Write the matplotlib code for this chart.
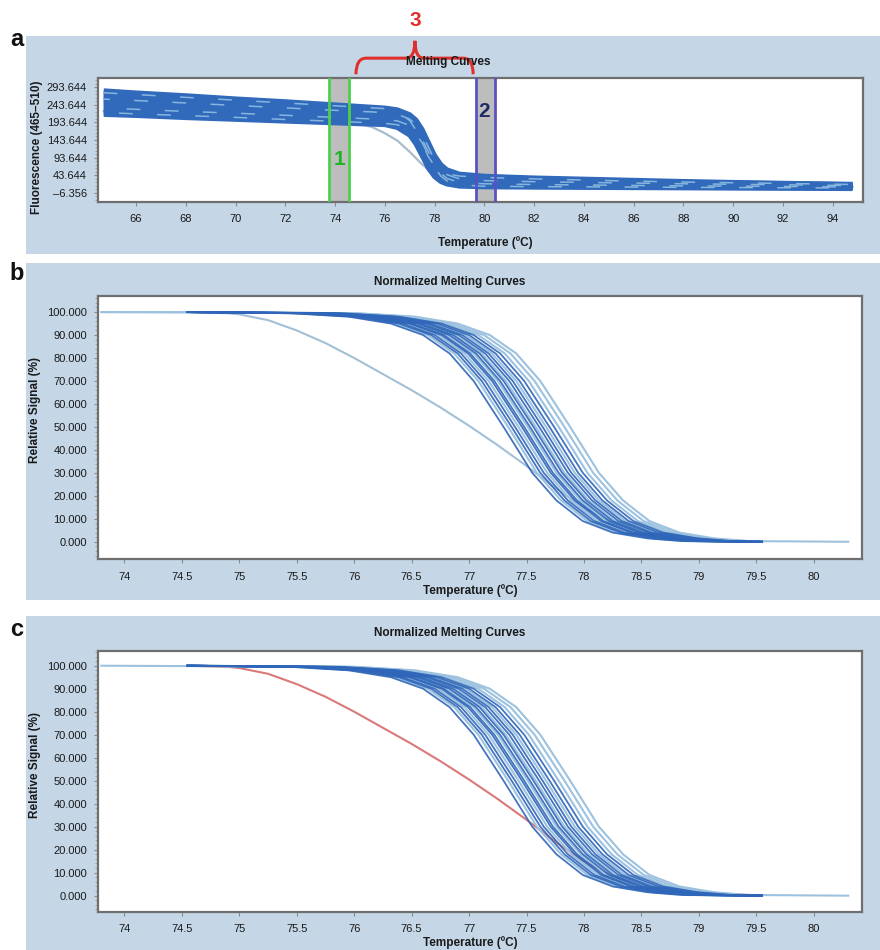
import matplotlib
matplotlib.use('Agg')
import matplotlib.pyplot as plt
from matplotlib.patches import Rectangle, PathPatch
from matplotlib.path import Path
from matplotlib.ticker import FixedLocator, AutoMinorLocator

plt.rcParams['font.family'] = ['Liberation Sans', 'DejaVu Sans']

# ---------------- Panel a: raw melting curves ----------------
RAW_TEMPS = [64.7, 66, 68, 70, 72, 74, 76, 76.5, 77, 77.25, 77.5, 77.75, 78, 78.25,
             78.5, 79, 80, 82, 85, 88, 91, 94.8]
RAW_CURVES = [
    [284, 278, 270, 261, 253, 244, 235, 230, 216, 201, 174, 137, 100, 74, 59, 47, 41, 36, 31, 26, 22, 18],
    [278, 273, 265, 257, 249, 241, 233, 224, 199, 172, 134, 96, 70, 55, 47, 41, 37, 33, 28, 24, 21, 17],
    [272, 267, 260, 252, 244, 237, 229, 224, 210, 195, 168, 130, 92, 66, 51, 39, 34, 30, 26, 22, 19, 16],
    [266, 261, 254, 247, 240, 232, 225, 217, 192, 165, 128, 90, 64, 49, 41, 35, 32, 28, 24, 21, 18, 15],
    [260, 256, 249, 242, 235, 228, 222, 217, 203, 188, 161, 124, 86, 60, 45, 33, 28, 25, 22, 19, 17, 14],
    [254, 250, 243, 236, 230, 223, 217, 209, 184, 158, 121, 84, 58, 43, 35, 29, 26, 23, 20, 18, 15, 13],
    [248, 244, 237, 231, 225, 218, 212, 207, 194, 179, 153, 117, 80, 55, 40, 28, 23, 21, 18, 16, 14, 12],
    [242, 238, 232, 226, 220, 214, 208, 200, 176, 150, 114, 77, 52, 37, 29, 23, 21, 19, 16, 14, 13, 11],
    [235, 231, 225, 220, 214, 208, 202, 198, 185, 170, 145, 110, 74, 49, 34, 23, 19, 17, 15, 13, 12, 10],
    [228, 224, 219, 213, 208, 202, 196, 189, 165, 140, 105, 69, 45, 30, 23, 17, 15, 14, 12, 11, 9, 8],
    [222, 218, 213, 208, 202, 197, 191, 187, 175, 160, 136, 101, 66, 41, 27, 16, 12, 11, 10, 9, 8, 7],
    [216, 213, 207, 202, 197, 192, 187, 179, 157, 132, 98, 63, 39, 25, 18, 12, 10, 9, 8, 7, 6, 5],
]
RAW_LIGHT_OVERLAY = [1, 4, 8, 10]
OUTLIER_RAW_TEMPS = [64.7, 70, 74, 74.7, 75, 75.5, 76, 76.5, 77, 77.5, 78, 78.5, 79, 80, 85, 94.8]
OUTLIER_RAW = [226, 212, 198, 193, 190, 180, 163, 142, 110, 74, 47, 32, 25, 22, 17, 10]

REGION1 = [73.77, 74.56]
REGION2 = [79.65, 80.43]
RAW_YTICKS = [-6.356, 43.644, 93.644, 143.644, 193.644, 243.644, 293.644]
RAW_YLABELS = ['–6.356', '43.644', '93.644', '143.644', '193.644', '243.644', '293.644']
RAW_XTICKS = [66, 68, 70, 72, 74, 76, 78, 80, 82, 84, 86, 88, 90, 92, 94]

# ---------------- Panels b/c: normalized curves ----------------
LEVELS = [100, 99.5, 98, 95, 90, 82, 70, 50, 30, 18, 9, 4, 1.5, 0.3, 0]
NORM_TEMPS = [
    [74.55, 75.45, 75.95, 76.32, 76.60, 76.83, 77.04, 77.30, 77.55, 77.76, 77.99, 78.25, 78.55, 78.85, 79.55],
    [74.55, 75.49, 75.99, 76.36, 76.64, 76.87, 77.08, 77.34, 77.59, 77.80, 78.03, 78.29, 78.59, 78.89, 79.55],
    [74.55, 75.52, 76.02, 76.39, 76.67, 76.90, 77.11, 77.37, 77.62, 77.83, 78.06, 78.32, 78.62, 78.92, 79.55],
    [74.55, 75.55, 76.05, 76.42, 76.70, 76.93, 77.14, 77.40, 77.65, 77.86, 78.09, 78.35, 78.65, 78.95, 79.55],
    [74.55, 75.58, 76.08, 76.45, 76.73, 76.96, 77.17, 77.43, 77.68, 77.89, 78.12, 78.38, 78.68, 78.98, 79.55],
    [74.55, 75.61, 76.11, 76.48, 76.76, 76.99, 77.20, 77.46, 77.71, 77.92, 78.15, 78.41, 78.71, 79.01, 79.55],
    [74.55, 75.63, 76.13, 76.50, 76.78, 77.01, 77.22, 77.48, 77.73, 77.94, 78.17, 78.43, 78.73, 79.03, 79.55],
    [74.55, 75.66, 76.16, 76.53, 76.81, 77.04, 77.25, 77.51, 77.76, 77.97, 78.20, 78.46, 78.76, 79.06, 79.55],
    [74.55, 75.68, 76.18, 76.55, 76.83, 77.06, 77.27, 77.53, 77.78, 77.99, 78.22, 78.48, 78.78, 79.08, 79.55],
    [74.55, 75.71, 76.21, 76.58, 76.86, 77.09, 77.30, 77.56, 77.81, 78.02, 78.25, 78.51, 78.81, 79.11, 79.55],
    [74.55, 75.73, 76.23, 76.60, 76.88, 77.11, 77.32, 77.58, 77.83, 78.04, 78.27, 78.53, 78.83, 79.13, 79.55],
    [74.55, 75.76, 76.26, 76.63, 76.91, 77.14, 77.35, 77.61, 77.86, 78.07, 78.30, 78.56, 78.86, 79.16, 79.55],
    [74.55, 75.79, 76.29, 76.66, 76.94, 77.17, 77.38, 77.64, 77.89, 78.10, 78.33, 78.59, 78.89, 79.19, 79.55],
    [74.55, 75.82, 76.32, 76.69, 76.97, 77.20, 77.41, 77.67, 77.92, 78.13, 78.36, 78.62, 78.92, 79.22, 79.55],
    [74.55, 75.85, 76.35, 76.72, 77.00, 77.23, 77.44, 77.70, 77.95, 78.16, 78.39, 78.65, 78.95, 79.25, 79.55],
    [74.55, 75.89, 76.39, 76.76, 77.04, 77.27, 77.48, 77.74, 77.99, 78.20, 78.43, 78.69, 78.99, 79.29, 79.55],
    [74.55, 75.93, 76.43, 76.80, 77.08, 77.31, 77.52, 77.78, 78.03, 78.24, 78.47, 78.73, 79.03, 79.33, 79.55],
    [74.55, 75.98, 76.48, 76.85, 77.13, 77.36, 77.57, 77.83, 78.08, 78.29, 78.52, 78.78, 79.08, 79.38, 79.55],
    [73.80, 76.03, 76.53, 76.90, 77.18, 77.41, 77.62, 77.88, 78.13, 78.34, 78.57, 78.83, 79.13, 79.43, 80.30],
]
NORM_SHADE = ['dark', 'light', 'dark', 'dark', 'light', 'dark', 'dark', 'light', 'dark', 'dark',
              'light', 'dark', 'dark', 'light', 'dark', 'dark', 'light', 'light', 'light']
OUT_T = [73.8, 74.55, 74.9, 75.0, 75.25, 75.5, 75.75, 76.0, 76.25, 76.5, 76.75, 77.0, 77.25,
         77.5, 77.75, 78.0, 78.25, 78.5, 78.75, 79.0, 79.5]
OUT_Y = [100, 100, 99.5, 99, 96.5, 92, 86.5, 80, 73, 66, 58.5, 50.5, 42, 33, 23.5, 15, 8.5,
         4.5, 2.2, 1, 0.2]
NORM_XTICKS = [74, 74.5, 75, 75.5, 76, 76.5, 77, 77.5, 78, 78.5, 79, 79.5, 80]
NORM_YTICKS = [0, 10, 20, 30, 40, 50, 60, 70, 80, 90, 100]

# ---------------- styling ----------------
W, H = 880, 950
BG = '#c5d6e7'
DARK = '#2f66b9'
LIGHT = '#9cc2df'
SPINE = '#6f6f6f'
TXT = '#1a1a1a'

fig = plt.figure(figsize=(W / 100, H / 100), dpi=100)


def fx(x):
    return x / W


def fy(y):
    return 1 - y / H


def add_axes_px(left, top, right, bottom):
    ax = fig.add_axes([fx(left), fy(bottom), (right - left) / W, (bottom - top) / H])
    ax.set_zorder(2)
    return ax


def style_axes(ax):
    for s in ax.spines.values():
        s.set_color(SPINE)
        s.set_linewidth(1.6)
    ax.tick_params(axis='both', which='major', direction='out', length=3, width=0.8,
                   color='#8a8a8a', labelsize=8, labelcolor=TXT)
    ax.tick_params(axis='y', which='minor', direction='out', length=2, width=0.6, color='#9a9a9a')
    ax.tick_params(axis='x', pad=6)
    ax.tick_params(axis='y', pad=5)
    ax.set_facecolor('white')


# panel backgrounds
for (y0, y1) in [(36, 254), (263, 600), (616, 950)]:
    fig.patches.append(Rectangle((fx(26), fy(y1)), (W - 26) / W, (y1 - y0) / H,
                                 transform=fig.transFigure, facecolor=BG, edgecolor='none',
                                 zorder=-5))

# ---------------- Panel a ----------------
axa = add_axes_px(98, 78, 863, 202)
style_axes(axa)
axa.set_xlim(64.47, 95.22)
axa.set_ylim(-32.8, 320.1)
axa.axvspan(REGION1[0], REGION1[1], color='#bdbdbd', zorder=1, lw=0)
axa.axvspan(REGION2[0], REGION2[1], color='#bdbdbd', zorder=1, lw=0)
axa.plot(OUTLIER_RAW_TEMPS, OUTLIER_RAW, color='#a9bccd', lw=1.6, zorder=2)
for i, ys in enumerate(RAW_CURVES):
    axa.plot(RAW_TEMPS, ys, color='#3169bb', lw=3.4, zorder=3, solid_capstyle='butt')
for k, i in enumerate(RAW_LIGHT_OVERLAY):
    axa.plot(RAW_TEMPS, RAW_CURVES[i], color='#86b6de', lw=1.1, zorder=4,
             linestyle=(k * 5, (9, 16)))
for x in REGION1:
    axa.axvline(x, color='#4ccf4c', lw=2, zorder=5)
for x in REGION2:
    axa.axvline(x, color='#5a52c4', lw=2, zorder=5)
axa.text(74.16, 0.34, '1', transform=axa.get_xaxis_transform(), color='#22b522',
         fontsize=15, fontweight='bold', ha='center', va='center', zorder=6)
axa.text(79.99, 0.73, '2', transform=axa.get_xaxis_transform(), color='#1f2a66',
         fontsize=15, fontweight='bold', ha='center', va='center', zorder=6)
axa.xaxis.set_major_locator(FixedLocator(RAW_XTICKS))
axa.set_xticklabels([str(t) for t in RAW_XTICKS])
axa.yaxis.set_major_locator(FixedLocator(RAW_YTICKS))
axa.set_yticklabels(RAW_YLABELS)
axa.yaxis.set_minor_locator(AutoMinorLocator(5))

# red brace "3"
tr = axa.get_xaxis_transform()
verts = [(74.84, 1.03), (74.84, 1.16), (75.25, 1.16),
         (76.85, 1.16),
         (77.21, 1.16), (77.21, 1.30),
         (77.21, 1.16), (77.57, 1.16),
         (79.15, 1.16),
         (79.55, 1.16), (79.55, 1.03)]
codes = [Path.MOVETO, Path.CURVE3, Path.CURVE3, Path.LINETO, Path.CURVE3, Path.CURVE3,
         Path.CURVE3, Path.CURVE3, Path.LINETO, Path.CURVE3, Path.CURVE3]
brace = PathPatch(Path(verts, codes), transform=tr, facecolor='none', edgecolor='#e0302c',
                  lw=2.2, clip_on=False, zorder=7)
axa.add_patch(brace)
axa.text(77.21, 1.46, '3', transform=tr, color='#e0302c', fontsize=15, fontweight='bold',
         ha='center', va='center', clip_on=False)

fig.text(fx(448), fy(62), 'Melting Curves', ha='center', va='center', fontsize=8.5,
         fontweight='bold', color=TXT, zorder=3)
fig.text(fx(485), fy(243), 'Temperature (ºC)', ha='center', va='center', fontsize=8.5,
         fontweight='bold', color=TXT)
fig.text(fx(37), fy(147), 'Fluorescence (465–510)', ha='center', va='center', rotation=90,
         fontsize=8.5, fontweight='bold', color=TXT)
fig.text(fx(17), fy(40), 'a', ha='center', va='center', fontsize=17, fontweight='bold',
         color='#111111')


# ---------------- Panels b and c ----------------
def norm_panel(top, bottom, ylim, outlier_color, outlier_start, title_y, label_y, ylab_y):
    ax = add_axes_px(98, top, 862, bottom)
    style_axes(ax)
    ax.set_xlim(73.77, 80.42)
    ax.set_ylim(*ylim)
    ax.plot(OUT_T[outlier_start:], OUT_Y[outlier_start:], color=outlier_color, lw=1.5, zorder=2)
    for temps, shade in zip(NORM_TEMPS, NORM_SHADE):
        if shade == 'light':
            ax.plot(temps, LEVELS, color=LIGHT, lw=1.5, zorder=3)
    for temps, shade in zip(NORM_TEMPS, NORM_SHADE):
        if shade == 'dark':
            ax.plot(temps, LEVELS, color=DARK, lw=1.3, zorder=4, alpha=0.9)
    ax.xaxis.set_major_locator(FixedLocator(NORM_XTICKS))
    ax.set_xticklabels(['%g' % t for t in NORM_XTICKS])
    ax.yaxis.set_major_locator(FixedLocator(NORM_YTICKS))
    ax.set_yticklabels(['%.3f' % t for t in NORM_YTICKS])
    ax.yaxis.set_minor_locator(AutoMinorLocator(5))
    fig.text(fx(450), fy(title_y), 'Normalized Melting Curves', ha='center', va='center',
             fontsize=8.5, fontweight='bold', color=TXT)
    fig.text(fx(470), fy(label_y), 'Temperature (ºC)', ha='center', va='center',
             fontsize=8.5, fontweight='bold', color=TXT)
    fig.text(fx(35), fy(ylab_y), 'Relative Signal (%)', ha='center', va='center',
             rotation=90, fontsize=8.5, fontweight='bold', color=TXT)
    return ax


norm_panel(296, 559, (-7.5, 107.0), '#a2c0d6', 0, 282, 591, 410)
fig.text(fx(17), fy(273), 'b', ha='center', va='center', fontsize=17, fontweight='bold',
         color='#111111')
norm_panel(651, 912, (-7.1, 106.4), '#d9797a', 1, 633, 943, 765)
fig.text(fx(17), fy(630), 'c', ha='center', va='center', fontsize=17, fontweight='bold',
         color='#111111')

fig.savefig('out.png', dpi=100, facecolor='white')
